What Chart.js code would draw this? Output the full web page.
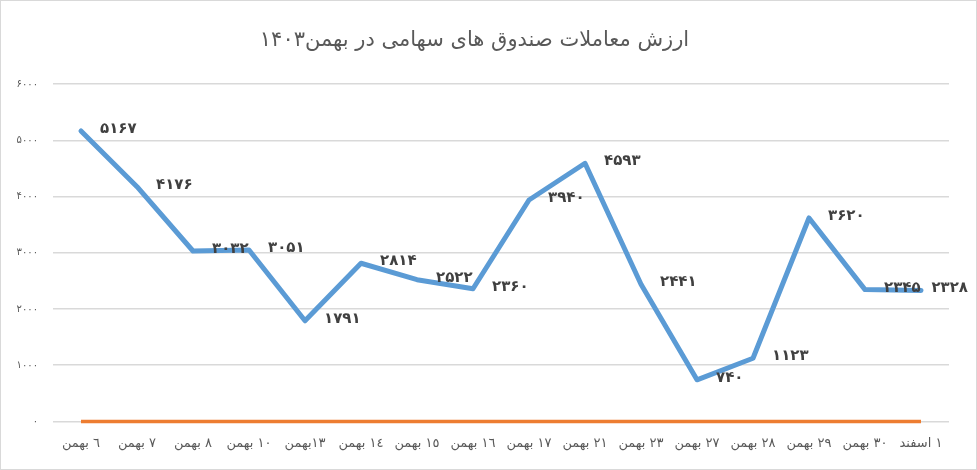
<!DOCTYPE html>
<html>
<head>
<meta charset="utf-8">
<script src="https://cdn.jsdelivr.net/npm/chart.js@4"></script>
<style>
  html, body { margin: 0; padding: 0; background: #fff; }
  #wrap { width: 977px; height: 470px; }
</style>
</head>
<body>
<div id="wrap"><canvas id="chart"></canvas></div>
<script>
const categories = [
  "٦ بهمن", "٧ بهمن", "٨ بهمن", "١٠ بهمن", "١٣بهمن", "١٤ بهمن", "١٥ بهمن", "١٦ بهمن",
  "١٧ بهمن", "٢١ بهمن", "٢٣ بهمن", "٢٧ بهمن", "٢٨ بهمن", "٢٩ بهمن", "٣٠ بهمن", "١ اسفند",
];
const tradeValues = [5167, 4176, 3032, 3051, 1791, 2814, 2522, 2360, 3940, 4593, 2441, 740, 1123, 3620, 2345, 2328];
const baseValues = [0, 0, 0, 0, 0, 0, 0, 0, 0, 0, 0, 0, 0, 0, 0, 0];
const yTicks = [0, 1000, 2000, 3000, 4000, 5000, 6000];

const titleText = "ارزش معاملات صندوق های سهامی در بهمن۱۴۰۳";

function toPersian(n) {
  const digits = "۰۱۲۳۴۵۶۷۸۹";
  return String(n).replace(/[0-9]/g, (d) => digits[d]);
}

// labels to the right of each point, like the original
const pointLabels = {
  id: "pointLabels",
  afterDatasetsDraw(chart) {
    const ctx = chart.ctx;
    const meta = chart.getDatasetMeta(0);
    ctx.save();
    ctx.font = "bold 15px 'DejaVu Sans'";
    ctx.fillStyle = "#404040";
    ctx.textAlign = "left";
    ctx.textBaseline = "middle";
    meta.data.forEach((pt, i) => {
      const txt = toPersian(tradeValues[i]);
      const w = ctx.measureText(txt).width;
      // keep the last label inside the frame
      const x = Math.min(pt.x + 19, chart.width - 9 - w);
      ctx.fillText(txt, x, pt.y - 2);
    });
    ctx.restore();
  },
};

const frame = {
  id: "frame",
  beforeDraw(chart) {
    const ctx = chart.ctx;
    ctx.save();
    ctx.fillStyle = "#ffffff";
    ctx.fillRect(0, 0, chart.width, chart.height);
    ctx.strokeStyle = "#d9d9d9";
    ctx.lineWidth = 1;
    ctx.strokeRect(0.5, 0.5, chart.width - 1, chart.height - 1);
    ctx.restore();
  },
};

new Chart(document.getElementById("chart"), {
  type: "line",
  data: {
    labels: categories,
    datasets: [
      {
        label: "ارزش معاملات",
        data: tradeValues,
        borderColor: "#5B9BD5",
        borderWidth: 5,
        pointRadius: 0,
        tension: 0,
        borderJoinStyle: "round",
        borderCapStyle: "round",
        clip: 8,
      },
      {
        label: "پایه",
        data: baseValues,
        borderColor: "#ED7D31",
        borderWidth: 3.5,
        pointRadius: 0,
        tension: 0,
        clip: 8,
      },
    ],
  },
  options: {
    responsive: true,
    maintainAspectRatio: false,
    animation: false,
    layout: { padding: { left: 0, right: 28, top: 0, bottom: 5 } },
    plugins: {
      legend: { display: false },
      tooltip: { enabled: false },
      title: {
        display: true,
        text: titleText,
        color: "#595959",
        font: { family: "'DejaVu Sans'", size: 21, weight: "normal" },
        padding: { top: 28, bottom: 31 },
      },
    },
    scales: {
      x: {
        offset: true,
        grid: { display: false, drawTicks: false },
        border: { display: false },
        ticks: {
          color: "#595959",
          font: { family: "'DejaVu Sans'", size: 13 },
          padding: 14,
          maxRotation: 0,
          autoSkip: false,
        },
      },
      y: {
        min: 0,
        max: 6000,
        afterBuildTicks(scale) {
          scale.ticks = yTicks.map((v) => ({ value: v }));
        },
        afterFit(scale) {
          scale.width = 53;
        },
        grid: { color: "#d9d9d9", lineWidth: 1.5, drawTicks: false },
        border: { display: false },
        ticks: {
          color: "#595959",
          font: { family: "'DejaVu Sans'", size: 10 },
          padding: 15,
          callback: (v) => toPersian(v),
        },
      },
    },
  },
  plugins: [frame, pointLabels],
});
</script>
</body>
</html>
